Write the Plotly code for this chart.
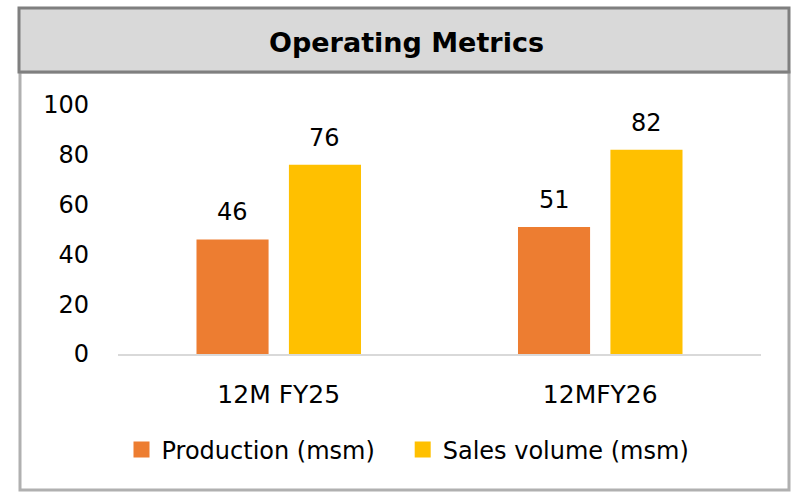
import plotly.graph_objects as go

# Operating metrics (msm)
periods = ["12M FY25", "12MFY26"]
production = [46, 51]
sales_volume = [76, 82]
y_ticks = [0, 20, 40, 60, 80, 100]

W, H = 792, 493
FONT = "'DejaVu Sans', sans-serif"
ORANGE = "#ED7D31"
GOLD = "#FFC000"


def px_x(v):
    return v / W


def px_y(v):
    return 1 - v / H


fig = go.Figure()
fig.add_bar(name="Production (msm)", x=periods, y=production, marker_color=ORANGE,
            marker_line_width=0, showlegend=False)
fig.add_bar(name="Sales volume (msm)", x=periods, y=sales_volume, marker_color=GOLD,
            marker_line_width=0, showlegend=False)

# legend entries with larger square keys; non-breaking spaces widen the gap between them
for name, col in [("Production (msm)\u00a0\u00a0\u00a0", ORANGE), ("Sales volume (msm)", GOLD)]:
    fig.add_scatter(x=[None], y=[None], mode="markers", name=name,
                    marker=dict(symbol="square", size=16, color=col), showlegend=True)

# value labels above each bar
for series, off in [(production, -0.5), (sales_volume, 0.5)]:
    for j, v in enumerate(series):
        fig.add_annotation(x=j + off * 0.2875, y=v, text=str(v), showarrow=False,
                           xref="x", yref="y", yanchor="bottom", yshift=11,
                           font=dict(size=24, color="#000000", family=FONT))

# title band and outer frame
fig.add_shape(type="rect", xref="paper", yref="paper",
              x0=px_x(20), x1=px_x(789), y0=px_y(490), y1=px_y(72),
              line=dict(color="#b0b0b0", width=3), fillcolor="rgba(0,0,0,0)", layer="below")
fig.add_shape(type="rect", xref="paper", yref="paper",
              x0=px_x(19), x1=px_x(789), y0=px_y(72), y1=px_y(8),
              line=dict(color="#7f7f7f", width=3), fillcolor="#d9d9d9", layer="below")
fig.add_annotation(text="<b>Operating Metrics</b>", xref="paper", yref="paper",
                   x=px_x(406), y=px_y(42), showarrow=False, yanchor="middle",
                   font=dict(size=27, color="#000000", family=FONT))

fig.update_layout(
    width=W, height=H,
    margin=dict(l=0, r=0, t=0, b=0, pad=0, autoexpand=False),
    paper_bgcolor="white", plot_bgcolor="white",
    barmode="group", bargap=0.425, bargroupgap=0.22,
    font=dict(family=FONT, color="#000000"),
    showlegend=True,
    legend=dict(orientation="h", x=px_x(408), xanchor="center", y=px_y(450), yanchor="middle",
                font=dict(size=24, family=FONT), itemwidth=30, traceorder="normal",
                itemsizing="trace", bgcolor="rgba(0,0,0,0)"),
    xaxis=dict(domain=[px_x(118), px_x(761)], showline=True, linecolor="#d9d9d9",
               linewidth=2, ticks="", tickfont=dict(size=25), showgrid=False,
               zeroline=False, ticklabelstandoff=17, automargin=False, fixedrange=True),
    yaxis=dict(domain=[px_y(354), px_y(105)], range=[0, 100], tickvals=y_ticks,
               showgrid=False, zeroline=False, showline=False, ticks="",
               tickfont=dict(size=24), ticklabelstandoff=28, automargin=False,
               fixedrange=True),
)

fig.write_html("out.html")
